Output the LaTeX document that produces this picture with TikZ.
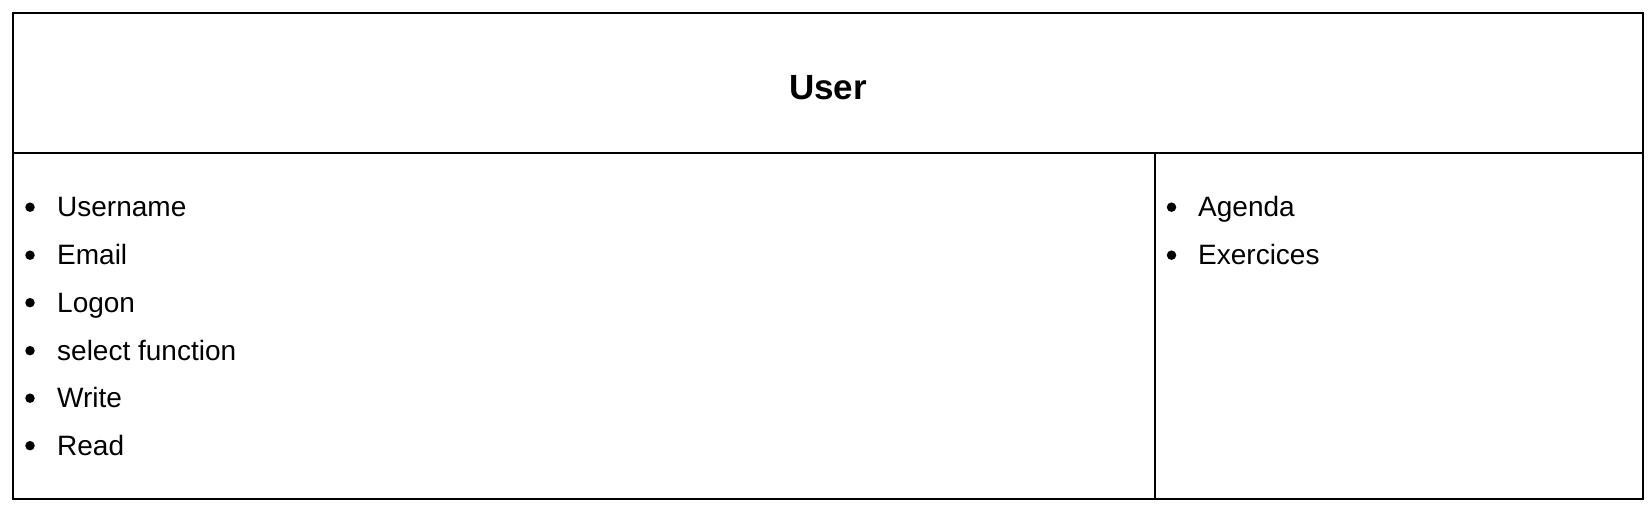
\documentclass[tikz,border=0pt]{standalone}
\usepackage{fontspec}
\setmainfont{Liberation Sans}
\usepackage{tikz}

\begin{document}
\begin{tikzpicture}[x=1pt,y=-1pt]
	 \tikzstyle{frame} = [draw,line width=1.6pt,black]
	 \tikzstyle{item}=[anchor=base west,inner sep=0pt,font=\fontsize{28}{32}\selectfont]
	 \tikzstyle{dot}=[circle,fill=black,inner sep=0pt,minimum size=9.5pt]
	 \useasboundingbox (0,0) rectangle (1650,508);
	 % table
	 \coordinate (tl) at (13,13);
	 \coordinate (br) at (1643,499);
	 \coordinate (hl) at (13,153);
	 \coordinate (hr) at (1643,153);
	 \coordinate (vt) at (1155,153);
	 \coordinate (vb) at (1155,499);
	 \draw[frame] (tl) rectangle (br);
	 \draw[frame] (hl) -- (hr);
	 \draw[frame] (vt) -- (vb);
	 % title
	 \node[anchor=base,inner sep=0pt,font=\fontsize{35}{40}\selectfont\bfseries] (title) at (828,100) {User};
	 % left column
	 \node[dot] (d1) at (30,207.2) {};
	 \node[dot] (d2) at (30,255.2) {};
	 \node[dot] (d3) at (30,302.7) {};
	 \node[dot] (d4) at (30,350.7) {};
	 \node[dot] (d5) at (30,398.2) {};
	 \node[dot] (d6) at (30,445.7) {};
	 \node[item] (username) at (57,216.5) {Username};
	 \node[item] (email) at (57,264.5) {Email};
	 \node[item] (logon) at (57,312) {Logon};
	 \node[item] (select) at (57,360) {select function};
	 \node[item] (write) at (57,407.5) {Write};
	 \node[item] (read) at (57,455) {Read};
	 % right column
	 \node[dot] (d7) at (1171.5,207.2) {};
	 \node[dot] (d8) at (1171.5,255.2) {};
	 \node[item] (agenda) at (1198,216.5) {Agenda};
	 \node[item] (exercices) at (1198,264.5) {Exercices};
 \end{tikzpicture}
\end{document}
